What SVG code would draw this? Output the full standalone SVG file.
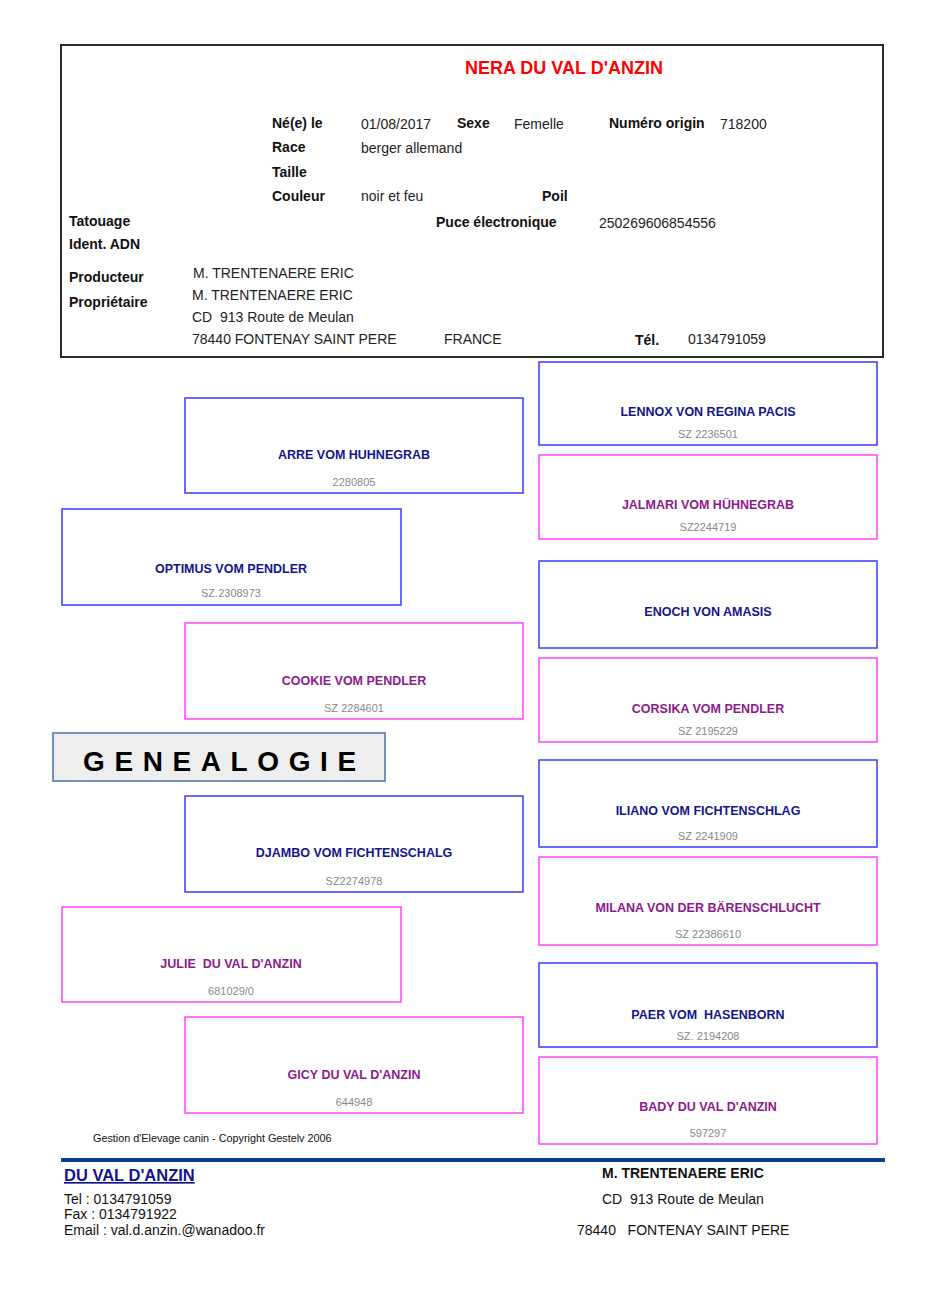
<svg xmlns="http://www.w3.org/2000/svg" width="929" height="1314" viewBox="0 0 929 1314" xml:space="preserve">
<style>
text{font-family:"Liberation Sans",Arial,sans-serif;white-space:pre;}
.lbl{font-size:14px;font-weight:bold;fill:#111;}
.val{font-size:14px;fill:#222;}
.m{fill:#fff;stroke:#3a3aff;stroke-width:1.5;}
.f{fill:#fff;stroke:#ff44ff;stroke-width:1.5;}
.nm{font-size:12.5px;font-weight:bold;fill:#14148c;text-anchor:middle;}
.nf{font-size:12.5px;font-weight:bold;fill:#8b1a8b;text-anchor:middle;}
.num{font-size:11px;fill:#888;text-anchor:middle;}
.ft{font-size:14px;fill:#111;}
</style>
<rect width="929" height="1314" fill="#fff"/>
<g id="header">
<rect x="61" y="45" width="822" height="312" fill="#fff" stroke="#2a2a2a" stroke-width="2"/>
<text x="564" y="74" font-size="18" font-weight="bold" fill="#ff0000" text-anchor="middle">NERA DU VAL D'ANZIN</text>
<text class="lbl" x="272" y="128">Né(e) le</text>
<text class="val" x="361" y="129">01/08/2017</text>
<text class="lbl" x="457" y="128">Sexe</text>
<text class="val" x="514" y="129">Femelle</text>
<text class="lbl" x="609" y="128">Numéro origin</text>
<text class="val" x="720" y="129">718200</text>
<text class="lbl" x="272" y="152">Race</text>
<text class="val" x="361" y="153">berger allemand</text>
<text class="lbl" x="272" y="177">Taille</text>
<text class="lbl" x="272" y="201">Couleur</text>
<text class="val" x="361" y="201">noir et feu</text>
<text class="lbl" x="542" y="201">Poil</text>
<text class="lbl" x="69" y="226">Tatouage</text>
<text class="lbl" x="436" y="227">Puce électronique</text>
<text class="val" x="599" y="228">250269606854556</text>
<text class="lbl" x="69" y="249">Ident. ADN</text>
<text class="lbl" x="69" y="282">Producteur</text>
<text class="val" x="193" y="278">M. TRENTENAERE ERIC</text>
<text class="lbl" x="69" y="307">Propriétaire</text>
<text class="val" x="192" y="300">M. TRENTENAERE ERIC</text>
<text class="val" x="192" y="322">CD  913 Route de Meulan</text>
<text class="val" x="192" y="344">78440 FONTENAY SAINT PERE</text>
<text class="val" x="444" y="344">FRANCE</text>
<text class="lbl" x="635" y="345">Tél.</text>
<text class="val" x="688" y="344">0134791059</text>
</g>
<g id="connectors"></g>
<g id="arre"><rect class="m" x="185" y="398" width="338" height="95"/><text class="nm" x="354" y="459">ARRE VOM HUHNEGRAB</text><text class="num" x="354" y="486">2280805</text></g>
<g id="optimus"><rect class="m" x="62" y="509" width="339" height="96"/><text class="nm" x="231" y="573">OPTIMUS VOM PENDLER</text><text class="num" x="231" y="597">SZ.2308973</text></g>
<g id="cookie"><rect class="f" x="185" y="623" width="338" height="96"/><text class="nf" x="354" y="685">COOKIE VOM PENDLER</text><text class="num" x="354" y="712">SZ 2284601</text></g>
<g id="genealogie"><rect x="53" y="733" width="332" height="48" fill="#eeeeee" stroke="#4a72a8" stroke-width="1.5"/><text x="83" y="771" font-size="28" font-weight="bold" fill="#000" letter-spacing="9.6">GENEALOGIE</text></g>
<g id="djambo"><rect class="m" x="185" y="796" width="338" height="96"/><text class="nm" x="354" y="857">DJAMBO VOM FICHTENSCHALG</text><text class="num" x="354" y="885">SZ2274978</text></g>
<g id="julie"><rect class="f" x="62" y="907" width="339" height="95"/><text class="nf" x="231" y="968">JULIE  DU VAL D'ANZIN</text><text class="num" x="231" y="995">681029/0</text></g>
<g id="gicy"><rect class="f" x="185" y="1017" width="338" height="96"/><text class="nf" x="354" y="1079">GICY DU VAL D'ANZIN</text><text class="num" x="354" y="1106">644948</text></g>
<g id="lennox"><rect class="m" x="539" y="362" width="338" height="83"/><text class="nm" x="708" y="416">LENNOX VON REGINA PACIS</text><text class="num" x="708" y="438">SZ 2236501</text></g>
<g id="jalmari"><rect class="f" x="539" y="455" width="338" height="84"/><text class="nf" x="708" y="509">JALMARI VOM HÜHNEGRAB</text><text class="num" x="708" y="531">SZ2244719</text></g>
<g id="enoch"><rect class="m" x="539" y="561" width="338" height="87"/><text class="nm" x="708" y="616">ENOCH VON AMASIS</text></g>
<g id="corsika"><rect class="f" x="539" y="658" width="338" height="84"/><text class="nf" x="708" y="713">CORSIKA VOM PENDLER</text><text class="num" x="708" y="735">SZ 2195229</text></g>
<g id="iliano"><rect class="m" x="539" y="760" width="338" height="87"/><text class="nm" x="708" y="815">ILIANO VOM FICHTENSCHLAG</text><text class="num" x="708" y="840">SZ 2241909</text></g>
<g id="milana"><rect class="f" x="539" y="857" width="338" height="88"/><text class="nf" x="708" y="912">MILANA VON DER BÄRENSCHLUCHT</text><text class="num" x="708" y="938">SZ 22386610</text></g>
<g id="paer"><rect class="m" x="539" y="963" width="338" height="84"/><text class="nm" x="708" y="1019">PAER VOM  HASENBORN</text><text class="num" x="708" y="1040">SZ. 2194208</text></g>
<g id="bady"><rect class="f" x="539" y="1057" width="338" height="87"/><text class="nf" x="708" y="1111">BADY DU VAL D'ANZIN</text><text class="num" x="708" y="1137">597297</text></g>
<g id="footer">
<text x="93" y="1142" font-size="10.8" fill="#111">Gestion d'Elevage canin - Copyright Gestelv 2006</text>
<rect x="61" y="1158" width="824" height="4" fill="#0a3f86"/>
<text x="64" y="1181" font-size="16.5" font-weight="bold" fill="#14148c" text-decoration="underline">DU VAL D'ANZIN</text>
<text class="ft" x="64" y="1204">Tel : 0134791059</text>
<text class="ft" x="64" y="1219">Fax : 0134791922</text>
<text class="ft" x="64" y="1235">Email : val.d.anzin.@wanadoo.fr</text>
<text x="602" y="1178" font-size="14" font-weight="bold" fill="#111">M. TRENTENAERE ERIC</text>
<text class="ft" x="602" y="1204">CD  913 Route de Meulan</text>
<text class="ft" x="577" y="1235">78440   FONTENAY SAINT PERE</text>
</g>
</svg>
